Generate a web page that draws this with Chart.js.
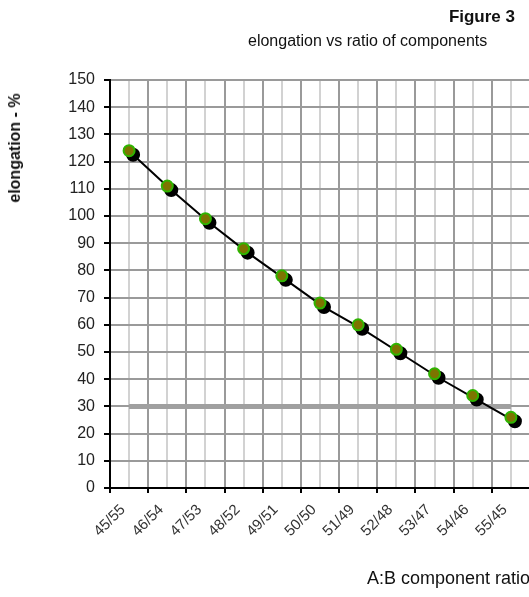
<!DOCTYPE html>
<html>
<head>
<meta charset="utf-8">
<title>elongation vs ratio of components</title>
<script src="https://cdn.jsdelivr.net/npm/chart.js@4/dist/chart.umd.min.js"></script>
<style>
  body { margin: 0; background: #fff; overflow: hidden; font-family: "Liberation Sans", Arial, sans-serif; }
  #wrap { position: absolute; left: 0; top: 0; width: 545px; height: 597px; }
  .head { position: absolute; white-space: nowrap; color: #111; }
  #fig { right: 30px; top: 7px; font-size: 17px; font-weight: bold; }
  #sub { left: 248px; top: 32px; font-size: 16px; }
  #ytitle { left: 15px; top: 148px; font-size: 16px; font-weight: bold; transform: translate(-50%, -50%) rotate(-90deg); }
</style>
</head>
<body>
<div id="wrap">
  <canvas id="myChart"></canvas>
  <div class="head" id="fig">Figure 3</div>
  <div class="head" id="sub">elongation vs ratio of components</div>
  <div class="head" id="ytitle">elongation - %</div>
</div>
<script>
const ratios = ['45/55', '46/54', '47/53', '48/52', '49/51', '50/50', '51/49', '52/48', '53/47', '54/46', '55/45'];
const elongation = [124, 111, 99, 88, 78, 68, 60, 51, 42, 34, 26];
const minimum = [30, 30, 30, 30, 30, 30, 30, 30, 30, 30, 30];

// draws the shadow dataset a few pixels down-right, under the green markers
const shadowShift = {
    id: 'shadowShift',
    beforeDatasetDraw(chart, args) {
        if (args.index === 1) {
            chart.ctx.save();
            chart.ctx.translate(4, 4);
        }
    },
    afterDatasetDraw(chart, args) {
        if (args.index === 1) chart.ctx.restore();
    }
};

Chart.defaults.font.family = '"Liberation Sans", Arial, sans-serif';
Chart.defaults.color = '#222';

const ctx = document.getElementById('myChart').getContext('2d');
let myChart = new Chart(ctx, {
    type: 'line',
    data: {
        labels: ratios,
        datasets: [{
            label: 'minimum',
            data: minimum,
            borderColor: '#a0a0a0',
            borderWidth: 5,
            pointRadius: 0,
            order: 3
        }, {
            label: 'shadow',
            data: elongation,
            borderColor: '#000',
            borderWidth: 2,
            pointRadius: 6,
            pointBackgroundColor: '#000',
            pointBorderColor: '#000',
            order: 2
        }, {
            label: 'elongation',
            data: elongation,
            showLine: false,
            pointRadius: 5.5,
            pointBorderWidth: 2,
            pointBackgroundColor: '#7d7400',
            pointBorderColor: '#2fb400',
            order: 1
        }]
    },
    options: {
        responsive: true,
        maintainAspectRatio: false,
        animation: false,
        layout: { padding: { top: 80, right: 15, bottom: 5, left: 0 } },
        plugins: {
            legend: { display: false },
            tooltip: { enabled: false }
        },
        scales: {
            x: {
                offset: true,
                grid: { offset: true, color: '#9a9a9a', lineWidth: 2, tickColor: '#000', tickLength: 5 },
                border: { color: '#000', width: 2 },
                ticks: { minRotation: 45, maxRotation: 45, font: { size: 15 }, color: '#333', padding: 8, labelOffset: -6 },
                title: {
                    display: true,
                    text: 'A:B component ratio',
                    align: 'end',
                    font: { size: 18 },
                    color: '#111',
                    padding: { top: 4, bottom: 2 }
                },
                afterFit(scale) { scale.height = 104; }
            },
            x2: {
                position: 'top',
                offset: true,
                grid: { offset: false, color: '#d2d2d2', lineWidth: 2, drawTicks: false },
                border: { display: false },
                ticks: { display: false }
            },
            y: {
                min: 0,
                max: 150,
                ticks: { stepSize: 10, font: { size: 16 }, color: '#222', padding: 9 },
                grid: { color: '#9a9a9a', lineWidth: 2, tickColor: '#000', tickLength: 6 },
                border: { color: '#000', width: 2 },
                afterFit(scale) { scale.width = 110; }
            }
        }
    },
    plugins: [shadowShift]
});
</script>
</body>
</html>
